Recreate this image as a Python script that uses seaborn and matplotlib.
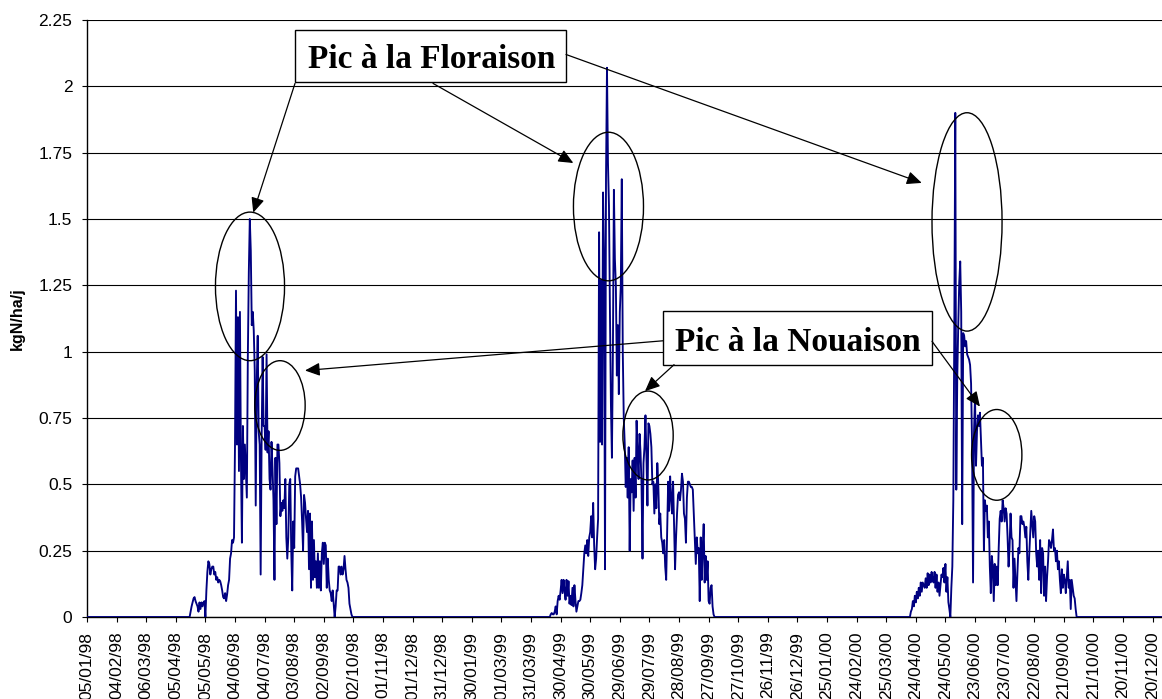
import pandas as pd
import matplotlib
matplotlib.use("Agg")
import matplotlib.pyplot as plt
import matplotlib.dates as mdates
from matplotlib.patches import Ellipse, Rectangle
import seaborn as sns

# ---- data -------------------------------------------------------------
first_day = "1998-01-05"
last_day = "2000-12-31"

# daily N uptake (kgN/ha/j) for each growing season, starting on these dates
season_starts = ["1998-04-19", "1999-04-19", "2000-04-18"]

uptake_1998 = [
    0.0, 0.02, 0.04, 0.055, 0.07, 0.075, 0.06, 0.05, 0.04, 0.02,
    0.055, 0.03, 0.055, 0.04, 0.055, 0.06, 0.0, 0.10, 0.17, 0.21,
    0.20, 0.16, 0.18, 0.19, 0.19, 0.16, 0.17, 0.14, 0.15, 0.13,
    0.14, 0.135, 0.12, 0.10, 0.075, 0.07, 0.09, 0.06, 0.085, 0.12,
    0.14, 0.22, 0.24, 0.29, 0.28, 0.30, 0.65, 1.23, 0.65, 1.13,
    0.55, 1.15, 0.60, 0.28, 0.72, 0.52, 0.65, 0.55, 0.45, 0.98,
    1.30, 1.50, 1.38, 1.10, 1.15, 1.08, 0.93, 0.42, 0.88, 1.06,
    0.70, 0.65, 0.16, 0.68, 0.98, 0.72, 0.72, 0.63, 0.99, 0.62,
    0.70, 0.52, 0.48, 0.66, 0.56, 0.44, 0.14, 0.60, 0.35, 0.65,
    0.65, 0.58, 0.38, 0.43, 0.40, 0.44, 0.41, 0.52, 0.30, 0.22,
    0.30, 0.50, 0.52, 0.25, 0.10, 0.36, 0.26, 0.53, 0.56, 0.56,
    0.56, 0.53, 0.50, 0.45, 0.36, 0.25, 0.46, 0.43, 0.37, 0.32,
    0.40, 0.18, 0.39, 0.11, 0.36, 0.14, 0.29, 0.15, 0.21, 0.11,
    0.24, 0.11, 0.21, 0.10, 0.24, 0.28, 0.20, 0.28, 0.27, 0.11,
    0.22, 0.14, 0.10, 0.09, 0.06, 0.10, 0.05, 0.0, 0.04, 0.10,
    0.10, 0.19, 0.19, 0.16, 0.19, 0.16, 0.18, 0.23, 0.18, 0.14,
    0.13, 0.11, 0.05, 0.03, 0.01, 0.0,
]

uptake_1999 = [
    0.0, 0.01, 0.015, 0.01, 0.01, 0.02, 0.04, 0.01, 0.06, 0.08,
    0.065, 0.10, 0.14, 0.09, 0.14, 0.10, 0.065, 0.14, 0.08, 0.135,
    0.05, 0.08, 0.045, 0.11, 0.04, 0.12, 0.065, 0.02, 0.04, 0.06,
    0.06, 0.065, 0.09, 0.12, 0.18, 0.24, 0.27, 0.24, 0.29, 0.23,
    0.30, 0.32, 0.38, 0.30, 0.43, 0.27, 0.18, 0.22, 0.30, 0.37,
    1.45, 0.66, 1.27, 0.65, 1.60, 1.36, 0.18, 1.65, 2.07, 1.71,
    1.55, 1.15, 0.80, 0.60, 1.00, 1.61, 1.35, 1.25, 0.91, 1.10,
    0.84, 1.15, 1.25, 1.65, 1.00, 0.75, 0.65, 0.49, 0.60, 0.45,
    0.64, 0.25, 0.52, 0.47, 0.59, 0.40, 0.60, 0.45, 0.74, 0.62,
    0.52, 0.69, 0.62, 0.50, 0.22, 0.58, 0.64, 0.76, 0.60, 0.42,
    0.73, 0.72, 0.69, 0.64, 0.50, 0.51, 0.39, 0.50, 0.41, 0.58,
    0.50, 0.35, 0.39, 0.30, 0.28, 0.24, 0.29, 0.19, 0.14, 0.32,
    0.51, 0.40, 0.53, 0.45, 0.39, 0.51, 0.34, 0.18, 0.30, 0.39,
    0.46, 0.47, 0.44, 0.48, 0.54, 0.51, 0.39, 0.37, 0.28, 0.45,
    0.51, 0.51, 0.50, 0.49, 0.49, 0.48, 0.39, 0.30, 0.20, 0.30,
    0.24, 0.26, 0.06, 0.30, 0.14, 0.26, 0.35, 0.13, 0.23, 0.14,
    0.21, 0.06, 0.05, 0.11, 0.12, 0.04, 0.01, 0.0,
]

uptake_2000 = [
    0.0, 0.02, 0.03, 0.06, 0.04, 0.08, 0.055, 0.095, 0.07, 0.11,
    0.08, 0.13, 0.095, 0.13, 0.12, 0.11, 0.146, 0.11, 0.165, 0.12,
    0.16, 0.13, 0.17, 0.14, 0.13, 0.17, 0.11, 0.16, 0.095, 0.13,
    0.08, 0.12, 0.16, 0.15, 0.185, 0.13, 0.20, 0.095, 0.15, 0.056,
    0.03, 0.0, 0.11, 0.19, 0.44, 1.08, 1.90, 0.48, 0.90, 1.10,
    1.26, 1.34, 1.15, 0.35, 1.07, 1.06, 1.02, 1.04, 0.99, 0.98,
    0.97, 0.95, 0.88, 0.65, 0.13, 0.70, 0.83, 0.57, 0.70, 0.76,
    0.72, 0.77, 0.67, 0.57, 0.60, 0.25, 0.44, 0.40, 0.42, 0.30,
    0.36, 0.19, 0.09, 0.23, 0.19, 0.06, 0.20, 0.12, 0.19, 0.12,
    0.26, 0.37, 0.40, 0.36, 0.44, 0.41, 0.36, 0.41, 0.39, 0.30,
    0.19, 0.26, 0.39, 0.30, 0.29, 0.11, 0.22, 0.14, 0.06, 0.17,
    0.26, 0.24, 0.38, 0.38, 0.35, 0.36, 0.34, 0.30, 0.34, 0.21,
    0.14, 0.24, 0.32, 0.40, 0.35, 0.30, 0.38, 0.36, 0.24, 0.19,
    0.25, 0.14, 0.29, 0.09, 0.26, 0.24, 0.08, 0.19, 0.06, 0.15,
    0.21, 0.29, 0.28, 0.26, 0.29, 0.33, 0.25, 0.26, 0.21, 0.25,
    0.18, 0.21, 0.14, 0.09, 0.18, 0.11, 0.16, 0.14, 0.09, 0.15,
    0.21, 0.11, 0.14, 0.03, 0.14, 0.11, 0.08, 0.07, 0.03, 0.0,
]

tick_dates = pd.date_range(first_day, periods=37, freq="30D")
tick_labels = [d.strftime("%d/%m/%y") for d in tick_dates]
y_ticks = [0, 0.25, 0.5, 0.75, 1, 1.25, 1.5, 1.75, 2, 2.25]
y_tick_labels = ["0", "0.25", "0.5", "0.75", "1", "1.25", "1.5", "1.75", "2", "2.25"]
y_title = "kgN/ha/j"
label_flowering = "Pic à la Floraison"
label_fruitset = "Pic à la Nouaison"

# ---- daily series -----------------------------------------------------
dates = pd.date_range(first_day, last_day, freq="D")
series = pd.Series(0.0, index=dates)
for start, vals in zip(season_starts, [uptake_1998, uptake_1999, uptake_2000]):
    series.loc[pd.date_range(start, periods=len(vals), freq="D")] = vals
df = pd.DataFrame({"date": dates, "kgN": series.values})

# ---- figure -----------------------------------------------------------
sns.set_style("white")
plt.rcParams["font.family"] = ["Liberation Sans", "DejaVu Sans"]
plt.rcParams["text.color"] = "black"
plt.rcParams["axes.labelcolor"] = "black"
plt.rcParams["xtick.color"] = "black"
plt.rcParams["ytick.color"] = "black"

fig = plt.figure(figsize=(11.62, 6.99), dpi=100)
ax = fig.add_axes([87 / 1162, 82 / 699, 1075 / 1162, 597 / 699])

sns.lineplot(data=df, x="date", y="kgN", ax=ax, color="#000080",
             lw=1.35, errorbar=None, zorder=3)

x0 = mdates.date2num(pd.Timestamp(first_day))


def at(day):
    """x position (matplotlib date number) of a day offset from the first day"""
    return x0 + day


ax.set_xlim(at(0), at(1089.5))
ax.set_ylim(0, 2.25)
ax.set_xticks(mdates.date2num(tick_dates))
ax.set_xticklabels(tick_labels, rotation=90)
ax.set_yticks(y_ticks)
ax.set_yticklabels(y_tick_labels)
ax.set_xlabel("")
ax.set_ylabel(y_title, fontsize=11.5, fontweight="bold", color="black")
ax.yaxis.set_label_coords(-0.058, 0.5)

ax.yaxis.grid(True, color="black", lw=0.8)
ax.xaxis.grid(False)
ax.set_axisbelow(True)
for side in ("top", "right"):
    ax.spines[side].set_visible(False)
for side in ("left", "bottom"):
    ax.spines[side].set_color("black")
    ax.spines[side].set_linewidth(1.0)
ax.tick_params(axis="both", direction="out", length=3.6, width=0.8,
               color="black", labelsize=12.5, pad=7, labelcolor="black")
ax.tick_params(axis="x", bottom=True)
ax.tick_params(axis="y", left=True)

# ---- annotations ------------------------------------------------------
ellipses = [
    (165.2, 1.246, 70, 0.56),
    (195.6, 0.797, 51, 0.338),
    (528.5, 1.547, 71, 0.56),
    (568.6, 0.684, 51, 0.335),
    (891.9, 1.489, 71, 0.823),
    (922.0, 0.611, 51, 0.342),
]
for cx, cy, w, h in ellipses:
    ax.add_patch(Ellipse((at(cx), cy), w, h, fill=False, ec="black",
                         lw=1.0, zorder=5))

boxes = [
    (label_flowering, 210.8, 485.5, 2.015, 2.211, 349.0, 2.069),
    (label_fruitset, 583.8, 856.4, 0.951, 1.154, 720.1, 1.004),
]
for text, xa, xb, ya, yb, tx, ty in boxes:
    ax.add_patch(Rectangle((at(xa), ya), xb - xa, yb - ya, fc="white",
                           ec="black", lw=1.0, zorder=6))
    ax.text(at(tx), ty, text, ha="center", va="baseline", fontsize=24,
            fontweight="bold", color="black",
            family=["Liberation Serif", "DejaVu Serif"], zorder=7)

arrows = [
    ((210.8, 2.011), (168.5, 1.524)),
    ((350.7, 2.011), (492.9, 1.711)),
    ((485.5, 2.120), (846.0, 1.636)),
    ((583.8, 1.041), (220.9, 0.929)),
    ((595.0, 0.951), (565.5, 0.851)),
    ((856.4, 1.039), (905.0, 0.793)),
]
for (sx, sy), (ex, ey) in arrows:
    ax.annotate("", xy=(at(ex), ey), xytext=(at(sx), sy),
                arrowprops=dict(arrowstyle="-|>,head_length=0.9,head_width=0.4",
                                color="black", lw=0.9, shrinkA=0, shrinkB=0,
                                mutation_scale=10),
                zorder=6)

fig.savefig("out.png", dpi=100)
